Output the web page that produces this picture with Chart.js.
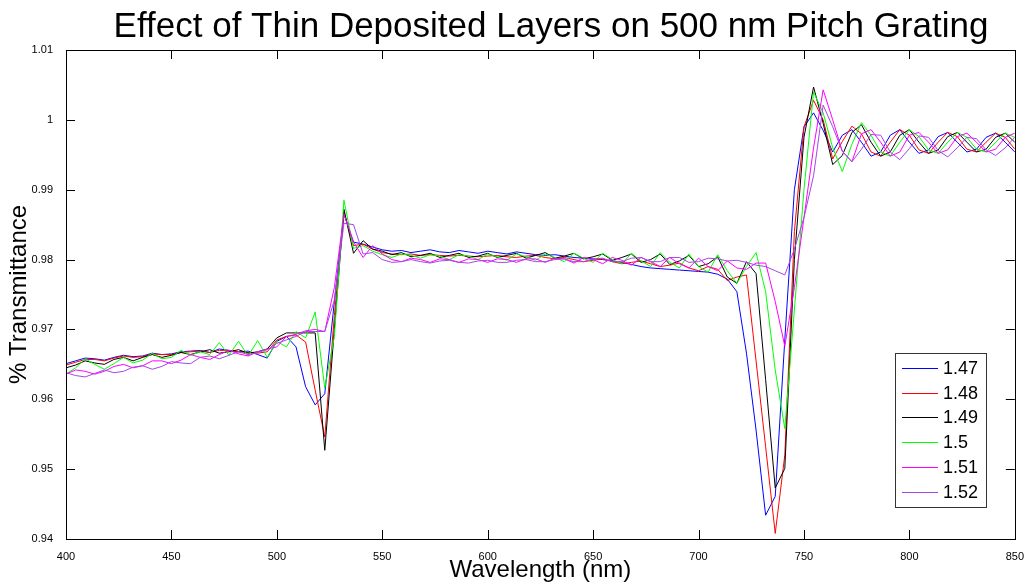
<!DOCTYPE html>
<html>
<head>
<meta charset="utf-8">
<title>Effect of Thin Deposited Layers on 500 nm Pitch Grating</title>
<script src="https://cdn.jsdelivr.net/npm/chart.js@4.4.1/dist/chart.umd.min.js"></script>
<style>
  html, body { margin: 0; padding: 0; background: #fff; }
  #wrap { width: 1027px; height: 587px; }
</style>
</head>
<body>
<div id="wrap"><canvas id="gratingChart" width="1027" height="587"></canvas></div>
<script>
// wavelength grid, 100 samples from 400 to 850 nm
const wavelengths = Array.from({ length: 100 }, (_, i) => 400 + i * 450 / 99);

const seriesLabels = ['1.47', '1.48', '1.49', '1.5', '1.51', '1.52'];
const seriesColors = ['#0000ff', '#ff0000', '#000000', '#00ff00', '#ff00ff', '#a347e5'];

const xTicks = [400, 450, 500, 550, 600, 650, 700, 750, 800, 850];
const yTicks = [0.94, 0.95, 0.96, 0.97, 0.98, 0.99, 1.0, 1.01];

const n147 = [
  .9651, .9655, .9659, .9658, .9656, .9660, .9663, .9661, .9662,
  .9666, .9664, .9665, .9668, .9669, .9670, .9667, .9672, .9670, .9668,
  .9669, .9664, .9659, .9683, .9690, .9675, .9618, .9592, .9608, .9740,
  .9865, .9825, .9822, .9818, .9814, .9812, .9813, .9810, .9812, .9814,
  .9811, .9810, .9813, .9811, .9809, .9812, .9810, .9808, .9811, .9809,
  .9807, .9806, .9807, .9805, .9803, .9802, .9801, .9800, .9798, .9796,
  .9793, .9790, .9788, .9787, .9786, .9785, .9784, .9783, .9782, .9779,
  .9772, .9754, .9666, .9556, .9434, .9461, .9685, .9900, .9990, 1.0010,
  .9985, .9954, .9978, .9986, .9968, .9948, .9954, .9978, .9986, .9968,
  .9952, .9957, .9976, .9982, .9968, .9954, .9958, .9975, .9981, .9968, .9954
];
const n148 = [
  .9649, .9653, .9657, .9657, .9655, .9659, .9662, .9660, .9661,
  .9665, .9664, .9664, .9667, .9668, .9669, .9667, .9670, .9670, .9668,
  .9667, .9666, .9668, .9685, .9690, .9692, .9682, .9613, .9546, .9720,
  .9868, .9820, .9822, .9815, .9810, .9808, .9807, .9808, .9806, .9807,
  .9806, .9805, .9806, .9805, .9804, .9805, .9806, .9804, .9803, .9805,
  .9806, .9803, .9801, .9803, .9800, .9797, .9799, .9801, .9797, .9794,
  .9796, .9798, .9794, .9790, .9792, .9795, .9788, .9784, .9790, .9786,
  .9770, .9775, .9778, .9655, .9532, .9408, .9520, .9840, .9990, 1.0028,
  1.0000, .9944, .9969, .9991, .9980, .9954, .9948, .9968, .9986, .9978,
  .9957, .9952, .9968, .9982, .9976, .9958, .9954, .9968, .9981, .9975, .9958
];
const n149 = [
  .9645, .9649, .9655, .9652, .9650, .9657, .9660, .9655, .9660,
  .9664, .9660, .9663, .9667, .9664, .9668, .9671, .9666, .9668, .9671,
  .9666, .9668, .9672, .9688, .9695, .9695, .9695, .9695, .9527, .9700,
  .9872, .9809, .9827, .9815, .9812, .9807, .9810, .9804, .9806, .9809,
  .9803, .9806, .9809, .9803, .9805, .9809, .9803, .9806, .9809, .9802,
  .9806, .9810, .9802, .9805, .9809, .9801, .9804, .9808, .9799, .9803,
  .9808, .9796, .9800, .9808, .9793, .9798, .9806, .9790, .9794, .9804,
  .9775, .9766, .9797, .9780, .9628, .9473, .9501, .9800, .9975, 1.0047,
  .9995, .9936, .9949, .9982, .9993, .9968, .9948, .9954, .9978, .9986,
  .9968, .9952, .9957, .9976, .9982, .9968, .9954, .9958, .9975, .9981, .9968
];
const n150 = [
  .9636, .9645, .9658, .9650, .9643, .9651, .9660, .9652, .9656,
  .9666, .9658, .9660, .9670, .9663, .9668, .9664, .9681, .9663, .9683,
  .9662, .9684, .9660, .9683, .9675, .9697, .9688, .9725, .9616, .9690,
  .9885, .9816, .9820, .9812, .9807, .9803, .9808, .9806, .9802, .9807,
  .9805, .9800, .9807, .9805, .9800, .9808, .9804, .9799, .9808, .9804,
  .9799, .9808, .9803, .9797, .9809, .9802, .9796, .9809, .9800, .9794,
  .9809, .9798, .9790, .9810, .9796, .9788, .9808, .9790, .9782, .9807,
  .9784, .9766, .9790, .9810, .9754, .9642, .9558, .9728, .9900, 1.0040,
  1.0010, .9960, .9926, .9965, .9996, .9978, .9954, .9948, .9968, .9986,
  .9976, .9957, .9952, .9968, .9982, .9975, .9958, .9954, .9968, .9981, .9975
];
const n151 = [
  .9636, .9642, .9640, .9636, .9640, .9647, .9650, .9645, .9648,
  .9655, .9655, .9651, .9656, .9664, .9660, .9657, .9664, .9670, .9665,
  .9662, .9668, .9672, .9675, .9690, .9693, .9698, .9700, .9697, .9760,
  .9865, .9825, .9803, .9820, .9808, .9800, .9797, .9802, .9800, .9796,
  .9801, .9800, .9796, .9801, .9800, .9796, .9801, .9800, .9796, .9801,
  .9801, .9796, .9802, .9801, .9795, .9803, .9800, .9794, .9803, .9799,
  .9792, .9803, .9797, .9790, .9803, .9794, .9788, .9802, .9790, .9784,
  .9798, .9788, .9786, .9795, .9795, .9740, .9676, .9760, .9860, .9960,
  1.0043, 1.0000, .9955, .9940, .9980, .9986, .9968, .9948, .9954, .9978,
  .9982, .9968, .9952, .9957, .9976, .9981, .9968, .9954, .9958, .9975, .9981
];
const n152 = [
  .9638, .9634, .9632, .9637, .9642, .9638, .9640, .9646, .9648,
  .9643, .9647, .9654, .9652, .9651, .9660, .9662, .9658, .9663, .9668,
  .9664, .9667, .9671, .9680, .9685, .9690, .9697, .9697, .9697, .9742,
  .9852, .9850, .9808, .9810, .9800, .9796, .9797, .9800, .9797, .9795,
  .9798, .9799, .9796, .9795, .9798, .9799, .9796, .9796, .9799, .9800,
  .9797, .9797, .9800, .9801, .9797, .9797, .9801, .9802, .9797, .9797,
  .9802, .9803, .9797, .9797, .9803, .9803, .9796, .9797, .9802, .9801,
  .9798, .9799, .9796, .9792, .9790, .9784, .9778, .9815, .9860, .9920,
  1.0021, .9990, .9955, .9940, .9958, .9979, .9978, .9954, .9943, .9959,
  .9977, .9975, .9956, .9947, .9960, .9975, .9973, .9957, .9949, .9960, .9975
];

const allSeries = [n147, n148, n149, n150, n151, n152];

// frame, inward ticks, title and the boxed legend, MATLAB style
const matlabLook = {
  id: 'matlabLook',
  afterDatasetsDraw(chart) {
    const { ctx, chartArea: a, scales: { x, y } } = chart;
    ctx.save();
    ctx.strokeStyle = '#000';
    ctx.lineWidth = 1;
    ctx.beginPath();
    xTicks.forEach(v => {
      const px = Math.round(x.getPixelForValue(v)) + 0.5;
      ctx.moveTo(px, a.bottom); ctx.lineTo(px, a.bottom - 9);
      ctx.moveTo(px, a.top); ctx.lineTo(px, a.top + 9);
    });
    yTicks.forEach(v => {
      const py = Math.round(y.getPixelForValue(v)) + 0.5;
      ctx.moveTo(a.left, py); ctx.lineTo(a.left + 9, py);
      ctx.moveTo(a.right, py); ctx.lineTo(a.right - 9, py);
    });
    ctx.stroke();
    ctx.strokeRect(Math.round(a.left) + 0.5, Math.round(a.top) + 0.5,
      Math.round(a.right - a.left), Math.round(a.bottom - a.top));

    // title
    ctx.fillStyle = '#000';
    ctx.font = '35px "Liberation Sans", Arial, sans-serif';
    ctx.textAlign = 'center';
    ctx.textBaseline = 'middle';
    ctx.fillText('Effect of Thin Deposited Layers on 500 nm Pitch Grating', 551, 27);

    // legend
    const bx = 895, by = 353, bw = 91, bh = 154;
    ctx.fillStyle = '#fff';
    ctx.fillRect(bx, by, bw, bh);
    ctx.strokeStyle = '#333';
    ctx.strokeRect(bx + 0.5, by + 0.5, bw, bh);
    ctx.font = '18px "Liberation Sans", Arial, sans-serif';
    ctx.textAlign = 'left';
    chart.data.datasets.forEach((ds, i) => {
      const ly = Math.round(by + 15 + i * 24.7) + 0.5;
      ctx.strokeStyle = ds.borderColor;
      ctx.beginPath();
      ctx.moveTo(bx + 7, ly); ctx.lineTo(bx + 43, ly);
      ctx.stroke();
      ctx.fillStyle = '#000';
      ctx.fillText(ds.label, bx + 48, ly + 1);
    });
    ctx.restore();
  }
};

const ctx = document.getElementById('gratingChart').getContext('2d');
new Chart(ctx, {
  type: 'line',
  data: {
    datasets: allSeries.map((vals, k) => ({
      label: seriesLabels[k],
      data: vals.map((v, i) => ({ x: wavelengths[i], y: v })),
      borderColor: seriesColors[k],
      backgroundColor: seriesColors[k],
      borderWidth: 1,
      pointRadius: 0,
      tension: 0,
      fill: false,
      order: allSeries.length - k
    }))
  },
  options: {
    responsive: false,
    animation: false,
    devicePixelRatio: 1,
    events: [],
    layout: { padding: { top: 50, right: 9, left: 0, bottom: 0 } },
    plugins: {
      legend: { display: false },
      title: { display: false },
      tooltip: { enabled: false }
    },
    scales: {
      x: {
        type: 'linear',
        min: 400,
        max: 850,
        grid: { display: false },
        border: { display: false },
        ticks: {
          stepSize: 50,
          autoSkip: false,
          maxRotation: 0,
          padding: 3,
          color: '#000',
          font: { family: '"Liberation Sans", Arial, sans-serif', size: 11 }
        },
        title: {
          display: true,
          text: 'Wavelength (nm)',
          color: '#000',
          padding: { top: 0, bottom: 2 },
          font: { family: '"Liberation Sans", Arial, sans-serif', size: 24 }
        },
        afterFit: s => { s.height = 48; }
      },
      y: {
        min: 0.94,
        max: 1.01,
        grid: { display: false },
        border: { display: false },
        ticks: {
          stepSize: 0.01,
          autoSkip: false,
          padding: 5,
          color: '#000',
          font: { family: '"Liberation Sans", Arial, sans-serif', size: 11 },
          callback: v => String(+v.toFixed(2))
        },
        title: {
          display: true,
          text: '% Transmittance',
          color: '#000',
          padding: { top: 5, bottom: 0 },
          font: { family: '"Liberation Sans", Arial, sans-serif', size: 24 }
        },
        afterFit: s => { s.width = 66; }
      }
    }
  },
  plugins: [matlabLook]
});
</script>
</body>
</html>
